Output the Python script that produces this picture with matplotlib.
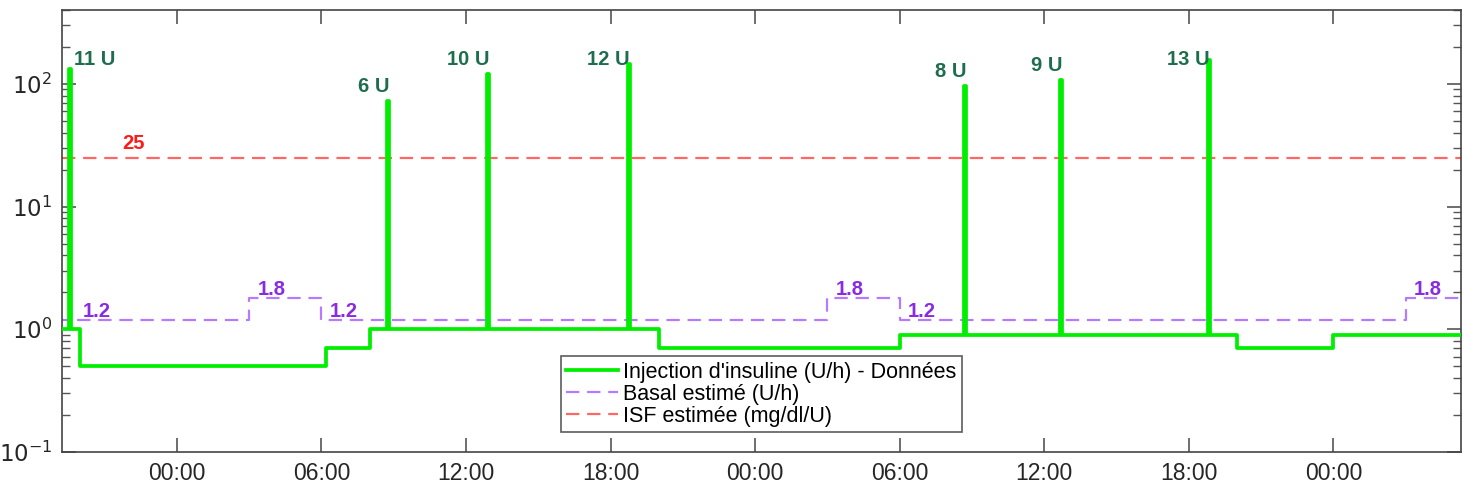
import numpy as np
import matplotlib
matplotlib.use("Agg")
import matplotlib.pyplot as plt
from matplotlib.ticker import LogLocator, FixedLocator, FuncFormatter

plt.rcParams['font.family'] = ['Liberation Sans', 'DejaVu Sans']
plt.rcParams['axes.unicode_minus'] = False

# --- data (hours from the first midnight) ---
x_min, x_max = -4.77, 53.3

# insulin basal steps (U/h)
base_t = [-5.0, -4.02, 6.2, 8.0, 20.0, 30.0, 44.0, 48.0]
base_v = [1.0, 0.5, 0.7, 1.0, 0.7, 0.9, 0.7, 0.9]

# boluses: time, rate over 5 min (U/h), dose (U)
bolus_t = [-4.48, 8.71, 12.86, 18.71, 32.66, 36.64, 42.78]
bolus_v = [132, 72, 120, 144, 96, 108, 156]
bolus_u = [11, 6, 10, 12, 8, 9, 13]

# estimated basal (U/h)
basal_t = [-5.0, 3.0, 6.0, 27.0, 30.0, 51.0]
basal_v = [1.2, 1.8, 1.2, 1.8, 1.2, 1.8]

isf = 25
tick_hours = [0, 6, 12, 18, 24, 30, 36, 42, 48]


def base_at(t):
    idx = np.searchsorted(base_t, t, side='right') - 1
    return base_v[max(idx, 0)]


def bolus_at(t):
    for bt, bv in zip(bolus_t, bolus_v):
        if bt <= t < bt + w:
            return bv
    return None


# merge steps and boluses into one step series
w = 1 / 12
times = sorted(set(base_t) | set(bolus_t) | {t + w for t in bolus_t})
T, V = [], []
for t in times:
    b = bolus_at(t)
    T.append(t)
    V.append(b if b is not None else base_at(t))
T.append(x_max + 1)
V.append(V[-1])

fig = plt.figure(figsize=(14.62, 4.88), dpi=100)
ax = fig.add_axes([62 / 1462, 36 / 488, 1399 / 1462, 442 / 488])

green = '#00ee00'
ax.step(T, V, where='post', color=green, lw=2.7,
        label="Injection d'insuline (U/h) - Données", zorder=3)
bt_ext = basal_t + [x_max + 1]
bv_ext = basal_v + [basal_v[-1]]
ax.step(bt_ext, bv_ext, where='post', color='#b57bff', lw=1.6,
        dashes=(6, 3.5), label='Basal estimé (U/h)', zorder=2)
ax.axhline(isf, color='#ff6666', lw=1.6, dashes=(6, 3.5),
           label='ISF estimée (mg/dl/U)', zorder=2)

# labels
lab_fs = 14.5
for t, v, u in zip(bolus_t, bolus_v, bolus_u):
    ly = min(v * 1.1, 132)
    if t - x_min < 1:
        ax.text(t + 0.2, ly, f"{u} U", ha='left', va='bottom',
                color='#1e6e4e', fontsize=lab_fs, fontweight='bold')
    else:
        ax.text(t + 0.1, ly, f"{u} U", ha='right', va='bottom',
                color='#1e6e4e', fontsize=lab_fs, fontweight='bold')

for t, v in zip(basal_t, basal_v):
    lx = max(t, x_min + 0.5) + 0.35
    ax.text(lx, v * 0.98, f"{v:.1f}", ha='left', va='bottom',
            color='#8a2be2', fontsize=lab_fs, fontweight='bold')

ax.text(-2.25, isf * 1.1, f"{isf}", ha='left', va='bottom',
        color='#ff1a1a', fontsize=lab_fs, fontweight='bold')

ax.set_yscale('log')
ax.set_ylim(0.1, 400)
ax.set_xlim(x_min, x_max)
ax.yaxis.set_major_locator(FixedLocator([0.1, 1, 10, 100]))
ax.yaxis.set_major_formatter(FuncFormatter(
    lambda y, p: r'$10^{%d}$' % int(round(np.log10(y)))))
ax.yaxis.set_minor_locator(LogLocator(base=10, subs=np.arange(2, 10)))
ax.yaxis.set_minor_formatter(FuncFormatter(lambda y, p: ''))
ax.xaxis.set_major_locator(FixedLocator(tick_hours))
ax.xaxis.set_major_formatter(FuncFormatter(
    lambda h, p: f"{int(h) % 24:02d}:00"))

ax.tick_params(axis='both', which='major', direction='in', length=10,
               width=1.2, color='#555555', labelsize=16.5,
               labelcolor='#262626', top=True, right=True)
ax.tick_params(axis='y', which='minor', direction='in', length=6,
               width=1.0, color='#555555', right=True)
ax.tick_params(axis='x', pad=7)
ax.tick_params(axis='y', pad=7)
for s in ax.spines.values():
    s.set_color('#444444')
    s.set_linewidth(1.2)

leg = ax.legend(loc='lower center', bbox_to_anchor=(0.5, 0.045),
                fontsize=15.5, handlelength=2.4, frameon=True,
                fancybox=False, borderpad=0.25, labelspacing=0.05,
                handletextpad=0.25, borderaxespad=0)
leg.get_frame().set_edgecolor('#333333')
leg.get_frame().set_linewidth(1.2)

fig.savefig('out.png', dpi=100)
